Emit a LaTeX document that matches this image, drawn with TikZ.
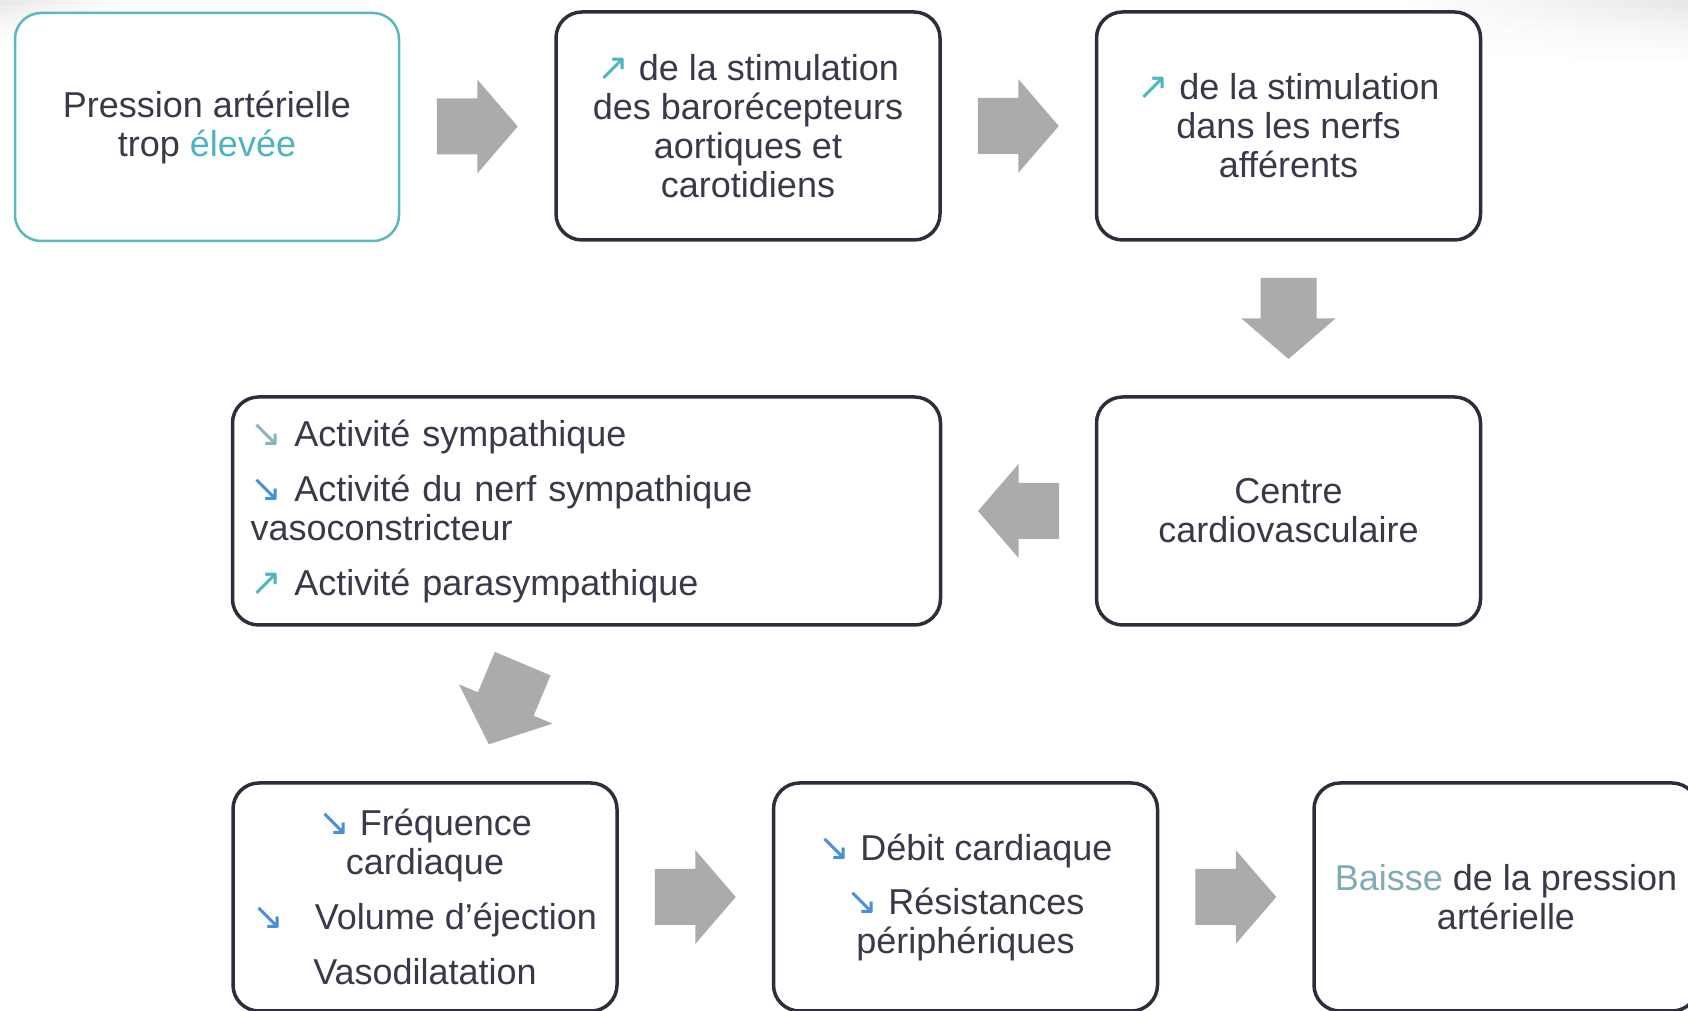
\documentclass[tikz,border=0pt]{standalone}
\usepackage{fontspec}
\setmainfont{Liberation Sans}
\newfontfamily\arrfont{DejaVu Sans}
\usetikzlibrary{calc}
\definecolor{txt}{HTML}{3A394B}
\definecolor{bord}{HTML}{2E2D3C}
\definecolor{tealb}{HTML}{5AB8C2}
\definecolor{tealtxt}{HTML}{4FB3BE}
\definecolor{baisse}{HTML}{7FAAB6}
\definecolor{upc}{HTML}{4DB6BF}
\definecolor{dnc}{HTML}{4A90D6}
\definecolor{dngray}{HTML}{8DB3BC}
\definecolor{agray}{HTML}{ABABAD}
\newcommand\myup{{\arrfont\fontsize{38}{38}\selectfont\color{upc}↗}}
\newcommand\mydn[1][dnc]{{\arrfont\fontsize{38}{38}\selectfont\color{#1}↘}}
\begin{document}
\begin{tikzpicture}[x=1pt,y=1pt,
  box/.style={draw=bord, line width=3.5pt, rounded corners=26pt,
    minimum width=384pt, minimum height=228pt, align=center,
    font=\fontsize{36}{39}\selectfont, text=txt, fill=white},
  blockarrow/.pic={\fill[agray] (-40.5,28) -- (0,28) -- (0,47) -- (40.5,0)
    -- (0,-47) -- (0,-28) -- (-40.5,-28) -- cycle;}
]
\useasboundingbox (0,0) rectangle (1688,1011);
\foreach \i/\c in {0/9,1/7,2/5,3/3.5,4/2,5/1}{
  \shade[left color=white, right color=black!\c]
    (1400,1011-10*\i) rectangle (1688,1001-10*\i);
  \shade[right color=white, left color=black!\c]
    (0,1011-7*\i) rectangle (120,1004-7*\i);
}

\node[box, draw=tealb, line width=2.5pt] (b1) at (207,884)
  {Pression artérielle\\trop \textcolor{tealtxt}{élevée}};
\node[box] (b2) at (748,885)
  {\myup{} de la stimulation\\des barorécepteurs\\aortiques et\\carotidiens};
\node[box] (b3) at (1288.5,885)
  {\myup{} de la stimulation\\dans les nerfs\\afférents};
\node[box] (b4) at (1288.5,500) {Centre\\cardiovasculaire};
\node[box, minimum width=708pt, text width=672pt, inner xsep=18pt, align=left]
  (b5) at (586.5,500)
  {\mydn[dngray] Activité sympathique\\[16pt]
   \mydn{} Activité du nerf sympathique\\vasoconstricteur\\[16pt]
   \myup{} Activité parasympathique};
\node[box] (b6) at (425,114)
  {\mydn{} Fréquence\\cardiaque\\[16pt]
   \mydn\ \ \ Volume d’éjection\\[16pt]Vasodilatation};
\node[box] (b7) at (965.5,114)
  {\mydn{} Débit cardiaque\\[15pt]\mydn{} Résistances\\périphériques};
\node[box] (b8) at (1506,114)
  {\textcolor{baisse}{Baisse} de la pression\\artérielle};

\pic at ($(b1.east)!0.5!(b2.west)$) {blockarrow};
\pic at ($(b2.east)!0.5!(b3.west)$) {blockarrow};
\pic[rotate=-90] at ($(b3.south)!0.5!(b4.north)$) {blockarrow};
\pic[rotate=180] at ($(b4.west)!0.5!(b5.east)$) {blockarrow};
\pic[rotate=-112.8, scale=1.08] at ($(b5.south)!0.5!(b6.north)$) {blockarrow};
\pic at ($(b6.east)!0.5!(b7.west)$) {blockarrow};
\pic at ($(b7.east)!0.5!(b8.west)$) {blockarrow};
\end{tikzpicture}
\end{document}
